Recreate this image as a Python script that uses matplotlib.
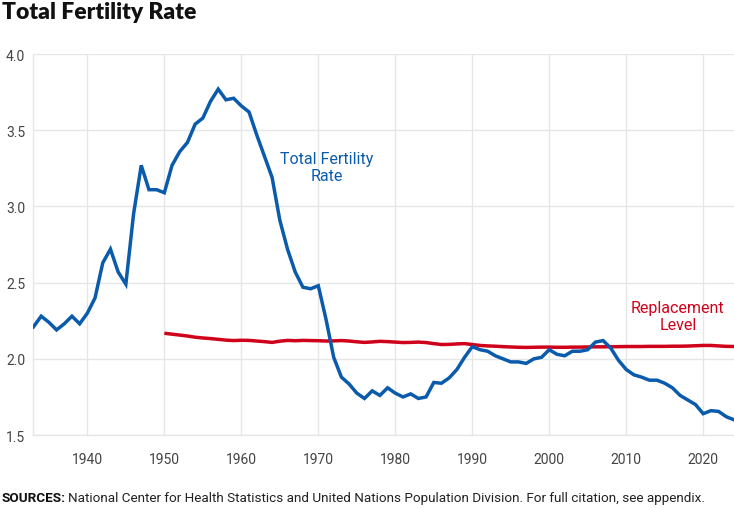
import numpy as np
import matplotlib.pyplot as plt
import matplotlib as mpl
mpl.use('Agg')

# ===============================================================================================
years = list(range(1933, 2025))
tfr = [2.21, 2.28, 2.24, 2.19, 2.23, 2.28, 2.23, 2.30, 2.40, 2.63,
       2.72, 2.57, 2.49, 2.95, 3.27, 3.11, 3.11, 3.09, 3.27, 3.36,
       3.42, 3.54, 3.58, 3.69, 3.77, 3.70, 3.71, 3.66, 3.62, 3.47,
       3.33, 3.19, 2.91, 2.72, 2.57, 2.47, 2.46, 2.48, 2.26, 2.01,
       1.88, 1.835, 1.775, 1.74, 1.79, 1.76, 1.81, 1.775, 1.75, 1.77,
       1.74, 1.75, 1.845, 1.84, 1.875, 1.93, 2.01, 2.08, 2.06, 2.05,
       2.02, 2.00, 1.98, 1.98, 1.97, 2.00, 2.01, 2.06, 2.03, 2.02,
       2.05, 2.05, 2.06, 2.11, 2.12, 2.07, 1.99, 1.93, 1.895, 1.88,
       1.86, 1.86, 1.84, 1.81, 1.76, 1.73, 1.70, 1.64, 1.66, 1.655,
       1.62, 1.60]

repl_years = list(range(1950, 2025))
repl = [2.168, 2.162, 2.156, 2.150, 2.142, 2.137, 2.133, 2.128, 2.123, 2.120,
        2.122, 2.121, 2.117, 2.113, 2.108, 2.116, 2.121, 2.119, 2.121, 2.120,
        2.119, 2.117, 2.118, 2.120, 2.117, 2.112, 2.108, 2.111, 2.115, 2.113,
        2.110, 2.107, 2.108, 2.110, 2.107, 2.100, 2.094, 2.095, 2.098, 2.100,
        2.094, 2.088, 2.085, 2.083, 2.080, 2.078, 2.076, 2.075, 2.076, 2.077,
        2.077, 2.076, 2.076, 2.077, 2.077, 2.078, 2.079, 2.079, 2.080, 2.080,
        2.081, 2.081, 2.081, 2.082, 2.082, 2.082, 2.083, 2.083, 2.084, 2.086,
        2.088, 2.088, 2.085, 2.082, 2.081]

xticks = [1940, 1950, 1960, 1970, 1980, 1990, 2000, 2010, 2020]
yticks = [1.5, 2.0, 2.5, 3.0, 3.5, 4.0]

blue = '#0a5bab'
red = '#d0021b'
grid_c = '#e6e6e6'
plt.rcParams['font.family'] = ['Roboto', 'DejaVu Sans']

fig = plt.figure(figsize=(7.34, 5.10), dpi=100)
ax = fig.add_axes([0.0456, 0.145, 0.9544, 0.747])

ax.plot(repl_years, repl, color=red, linewidth=2.5, solid_capstyle='butt', zorder=3)
ax.plot(years, tfr, color=blue, linewidth=2.5, solid_joinstyle='miter', zorder=4)

ax.set_xlim(1933, 2024)
ax.set_ylim(1.5, 4.0)
ax.set_xticks(xticks)
ax.set_yticks(yticks)
ax.set_yticklabels(['%.1f' % v for v in yticks])
ax.grid(True, color=grid_c, linewidth=1)
ax.set_axisbelow(True)
for s in ['top', 'right']:
    ax.spines[s].set_visible(False)
for s in ['left', 'bottom']:
    ax.spines[s].set_color(grid_c)
    ax.spines[s].set_linewidth(1)
ax.tick_params(length=0, labelsize=10, colors='#444444')
ax.tick_params(axis='x', pad=12)
ax.tick_params(axis='y', pad=6)

ax.text(1971.1, 3.26, 'Total Fertility\nRate', color=blue, fontsize=11.5,
        ha='center', va='center', linespacing=1.2)
ax.text(2016.7, 2.28, 'Replacement\nLevel', color=red, fontsize=11.5,
        ha='center', va='center', linespacing=1.2)

fig.text(0.003, 0.975, 'Total Fertility Rate', fontsize=16.5, fontweight='heavy',
         family=['Lato', 'DejaVu Sans'], ha='left', va='center', color='#111111')

t1 = fig.text(0.002, 0.022, 'SOURCES:', fontsize=9.7, fontweight='bold',
              ha='left', va='center', color='#111111')
r = fig.canvas.get_renderer()
bb = t1.get_window_extent(renderer=r)
fig.text((bb.x1 + 3) / fig.bbox.width, 0.022,
         'National Center for Health Statistics and United Nations Population Division. '
         'For full citation, see appendix.', fontsize=9.7,
         ha='left', va='center', color='#222222')

fig.savefig('out.png', dpi=100)
